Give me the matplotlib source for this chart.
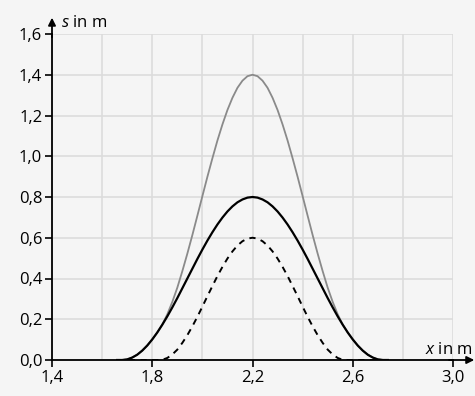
import matplotlib
matplotlib.use("Agg")
import matplotlib.pyplot as plt

plt.rcParams["font.family"] = ["Open Sans", "DejaVu Sans"]
plt.rcParams["mathtext.fontset"] = "custom"
plt.rcParams["mathtext.it"] = "Open Sans:italic"
plt.rcParams["mathtext.rm"] = "Open Sans"

# positions along the rope (m), 0.02 m steps
x = [1.66, 1.68, 1.70, 1.72, 1.74, 1.76, 1.78, 1.80, 1.82, 1.84, 1.86,
     1.88, 1.90, 1.92, 1.94, 1.96, 1.98, 2.00, 2.02, 2.04, 2.06, 2.08,
     2.10, 2.12, 2.14, 2.16, 2.18, 2.20, 2.22, 2.24, 2.26, 2.28, 2.30,
     2.32, 2.34, 2.36, 2.38, 2.40, 2.42, 2.44, 2.46, 2.48, 2.50, 2.52,
     2.54, 2.56, 2.58, 2.60, 2.62, 2.64, 2.66, 2.68, 2.70, 2.72, 2.74]

# black pulse (solid)
s_wave1 = [0.0, 0.0, 0.003, 0.012, 0.026, 0.046, 0.071, 0.101, 0.135, 0.173, 0.214,
           0.258, 0.304, 0.352, 0.400, 0.448, 0.496, 0.542, 0.586, 0.627, 0.665, 0.699,
           0.729, 0.754, 0.774, 0.788, 0.797, 0.800, 0.797, 0.788, 0.774, 0.754, 0.729,
           0.699, 0.665, 0.627, 0.586, 0.542, 0.496, 0.448, 0.400, 0.352, 0.304, 0.258,
           0.214, 0.173, 0.135, 0.101, 0.071, 0.046, 0.026, 0.012, 0.003, 0.0, 0.0]

# dashed pulse
s_wave2 = [0.0, 0.0, 0.0, 0.0, 0.0, 0.0, 0.0, 0.0, 0.0, 0.001, 0.010,
           0.027, 0.051, 0.084, 0.122, 0.165, 0.212, 0.262, 0.313, 0.363, 0.412, 0.457,
           0.498, 0.533, 0.562, 0.583, 0.596, 0.600, 0.596, 0.583, 0.562, 0.533, 0.498,
           0.457, 0.412, 0.363, 0.313, 0.262, 0.212, 0.165, 0.122, 0.084, 0.051, 0.027,
           0.010, 0.001, 0.0, 0.0, 0.0, 0.0, 0.0, 0.0, 0.0, 0.0, 0.0]

# grey: resulting pulse
s_sum = [0.0, 0.0, 0.003, 0.012, 0.026, 0.046, 0.071, 0.101, 0.135, 0.174, 0.224,
         0.285, 0.355, 0.436, 0.522, 0.613, 0.708, 0.804, 0.899, 0.990, 1.077, 1.156,
         1.227, 1.287, 1.336, 1.371, 1.393, 1.400, 1.393, 1.371, 1.336, 1.287, 1.227,
         1.156, 1.077, 0.990, 0.899, 0.804, 0.708, 0.613, 0.522, 0.436, 0.355, 0.285,
         0.224, 0.174, 0.135, 0.101, 0.071, 0.046, 0.026, 0.012, 0.003, 0.0, 0.0]

x_ticks = [1.4, 1.8, 2.2, 2.6, 3.0]
x_tick_labels = ["1,4", "1,8", "2,2", "2,6", "3,0"]
x_grid = [1.6, 2.0, 2.4, 2.8]
y_ticks = [0.0, 0.2, 0.4, 0.6, 0.8, 1.0, 1.2, 1.4, 1.6]
y_tick_labels = ["0,0", "0,2", "0,4", "0,6", "0,8", "1,0", "1,2", "1,4", "1,6"]

bg = "#f5f5f5"
fig = plt.figure(figsize=(4.75, 3.96), dpi=100, facecolor=bg)
ax = fig.add_axes([52 / 475, 36 / 396, 401 / 475, 326 / 396], facecolor=bg)

ax.plot(x, s_sum, color="#8a8a8a", lw=1.3, zorder=3)
ax.plot(x, s_wave1, color="black", lw=1.6, zorder=4)
ax.plot(x, s_wave2, color="black", lw=1.4, dashes=(3.2, 2.8), zorder=4)

ax.set_xlim(1.4, 3.0)
ax.set_ylim(0, 1.6)
ax.set_xticks(x_ticks)
ax.set_xticklabels(x_tick_labels)
ax.set_xticks(x_grid, minor=True)
ax.set_yticks(y_ticks)
ax.set_yticklabels(y_tick_labels)
ax.tick_params(which="major", direction="out", length=5, width=1.2, pad=2,
               labelsize=12, color="black")
ax.tick_params(which="minor", length=0)
ax.tick_params(axis="x", pad=2)
ax.grid(True, which="both", color="#dcdcdc", lw=1.2, zorder=0)
ax.set_axisbelow(True)

for side in ["top", "right"]:
    ax.spines[side].set_visible(False)
ax.spines["left"].set_linewidth(1.3)
ax.spines["bottom"].set_linewidth(1.3)
ax.spines["left"].set_zorder(5)
ax.spines["bottom"].set_zorder(5)

# arrows on the axes
ax.annotate("", xy=(1.053, 0), xytext=(0.99, 0), xycoords="axes fraction",
            arrowprops=dict(arrowstyle="-|>", color="black", lw=1.3,
                            mutation_scale=11, shrinkA=0, shrinkB=0),
            annotation_clip=False)
ax.annotate("", xy=(0, 1.05), xytext=(0, 0.99), xycoords="axes fraction",
            arrowprops=dict(arrowstyle="-|>", color="black", lw=1.3,
                            mutation_scale=11, shrinkA=0, shrinkB=0),
            annotation_clip=False)

ax.text(473 / 475, 1 - 354 / 396, r"$x$ in m", transform=fig.transFigure,
        ha="right", va="baseline", fontsize=12)
fig.text(61 / 475, 1 - 27 / 396, r"$s$ in m", fontsize=12,
         ha="left", va="baseline")

fig.savefig("out.png", dpi=100, facecolor=bg)
